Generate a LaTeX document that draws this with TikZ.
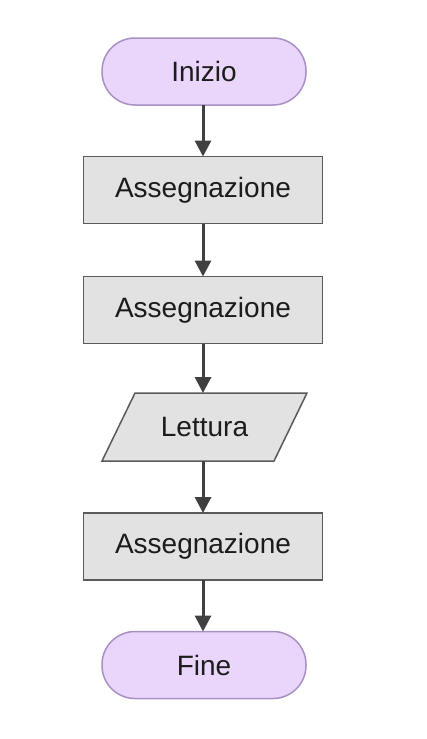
\documentclass[tikz,border=0pt]{standalone}
\usepackage{fontspec}
\setmainfont{Liberation Sans}
\usetikzlibrary{arrows.meta,calc}
\definecolor{termfill}{HTML}{EAD6FA}
\definecolor{termdraw}{HTML}{A990C4}
\definecolor{boxfill}{HTML}{E2E2E2}
\definecolor{boxdraw}{HTML}{5A5A5A}
\definecolor{arrowcol}{HTML}{404040}
\definecolor{txtcol}{HTML}{1C1C1C}
\tikzset{
  base/.style={font=\fontsize{28}{32}\selectfont, text=txtcol, inner sep=0pt, outer sep=0pt},
  term/.style={base, draw=termdraw, fill=termfill, line width=1.5pt, rounded corners=33pt, minimum width=204pt, minimum height=67pt},
  procbox/.style={base, draw=boxdraw, fill=boxfill, line width=1.5pt, minimum width=239pt, minimum height=67pt},
  iobox/.style={base, minimum width=205pt, minimum height=68pt},
  flow/.style={draw=arrowcol, line width=3pt, -{Triangle[width=16pt,length=16pt]}}
}
\begin{document}
\begin{tikzpicture}[x=1pt,y=-1pt]
\useasboundingbox (0,0) rectangle (426,739);
\node[term] (start) at (204,71.5) {Inizio};
\node[procbox] (a1) at (203,190) {Assegnazione};
\node[procbox] (a2) at (203,310) {Assegnazione};
\node[iobox] (read) at (204.5,427) {};
\fill[boxfill] ($(read.north west)+(33,0)$) -- (read.north east) -- ($(read.south east)+(-33,0)$) -- (read.south west) -- cycle;
\draw[boxdraw, line width=1.5pt, line join=miter] ($(read.north west)+(33,0)$) -- (read.north east) -- ($(read.south east)+(-33,0)$) -- (read.south west) -- cycle;
\node[base] (readtxt) at (read.center) {Lettura};
\node[procbox] (a3) at (203,546.5) {Assegnazione};
\node[term] (stop) at (204,665) {Fine};
\coordinate (rtop) at (203,393);
\coordinate (rbot) at (203,461);
\draw[flow] (start.south -| a1.north) -- (a1.north);
\draw[flow] (a1.south) -- (a2.north);
\draw[flow] (a2.south) -- (rtop);
\draw[flow] (rbot) -- (a3.north);
\draw[flow] (a3.south) -- (a3.south |- stop.north);
\end{tikzpicture}
\end{document}
